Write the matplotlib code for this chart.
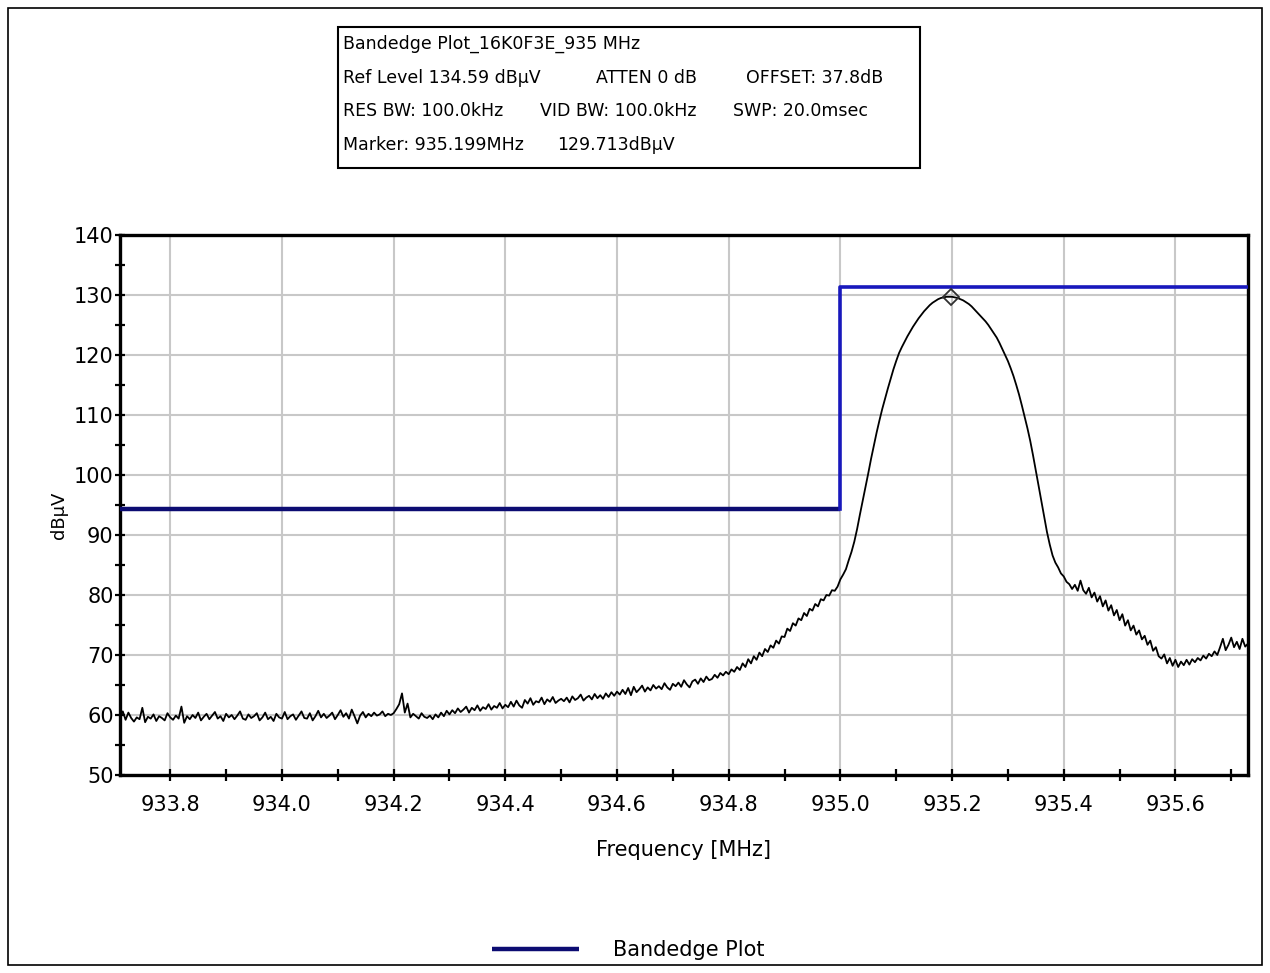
import numpy as np
import matplotlib
matplotlib.use("Agg")
import matplotlib.pyplot as plt
from matplotlib.patches import Rectangle
from matplotlib.ticker import MultipleLocator, FormatStrFormatter

plt.rcParams['font.family'] = ['DejaVu Sans']

# sweep settings (analyzer trace, 405 points)
f_start = 933.71
f_stop = 935.73
n_points = 405

# measured trace level, dBuV
trace_level = np.array([
    59.8, 60.6, 59.2, 60.4, 59.5, 58.9, 59.6, 59.3, 61.2, 58.8, 59.7, 59.4, 60.1, 59.0, 59.8, 59.5, 59.1, 60.3, 59.6, 59.2,
    59.9, 59.4, 61.4, 58.7, 59.8, 59.3, 60.0, 59.5, 60.4, 59.1, 59.7, 60.2, 59.3, 59.9, 60.5, 59.4, 59.8, 59.0, 60.2, 59.6,
    60.0, 59.3, 59.9, 60.6, 59.4, 59.2, 60.1, 59.5, 59.8, 60.3, 59.1, 59.6, 60.4, 59.3, 59.7, 59.0, 60.2, 59.6, 59.4, 60.5,
    59.3, 59.8, 60.1, 59.2, 59.9, 60.6, 59.5, 59.4, 60.3, 59.1, 59.8, 60.7, 59.6, 60.2, 59.5, 59.9, 60.4, 59.3, 60.0, 60.8,
    59.7, 60.3, 59.4, 60.9, 59.8, 58.6, 59.9, 60.5, 59.6, 60.2, 59.8, 60.4, 59.9, 60.1, 60.6, 59.8, 60.2, 60.0, 60.3, 61.0,
    61.8, 63.6, 60.4, 61.9, 59.6, 60.2, 59.8, 59.4, 60.3, 59.7, 59.5, 59.9, 59.3, 60.1, 59.6, 60.4, 59.8, 60.7, 60.1, 60.8,
    60.3, 61.1, 60.5, 60.9, 61.4, 60.4, 61.2, 60.8, 61.6, 60.7, 61.3, 61.0, 61.8, 60.9, 61.5, 61.2, 62.0, 61.1, 61.7, 61.3,
    62.2, 61.4, 62.4, 61.6, 61.2, 62.5, 61.9, 62.8, 61.7, 62.3, 62.1, 62.9, 61.8, 62.6, 62.2, 63.0, 62.0, 62.4, 62.7, 62.3,
    62.9, 62.1, 63.1, 62.5, 62.8, 63.4, 62.4, 62.9, 63.2, 62.6, 63.5, 62.8, 63.3, 62.7, 63.6, 63.0, 63.8, 63.2, 63.9, 63.4,
    64.2, 63.5, 64.5, 63.3, 64.7, 63.8, 64.3, 64.9, 63.9, 64.6, 64.1, 65.0, 64.4, 64.8, 64.3, 65.3, 64.6, 64.2, 65.2, 64.8,
    65.4, 64.7, 65.8, 65.1, 64.6, 65.6, 65.9, 65.2, 66.1, 65.5, 66.4, 65.8, 66.0, 66.7, 66.2, 67.0, 66.6, 67.2, 66.8, 67.6,
    67.2, 68.0, 67.5, 68.6, 68.0, 69.3, 68.6, 69.8, 69.2, 70.4, 69.8, 71.0, 70.5, 71.6, 71.2, 72.4, 71.9, 73.1, 73.0, 74.4,
    74.0, 75.3, 74.9, 76.1, 75.8, 77.0, 76.5, 77.7, 77.4, 78.5, 78.1, 79.3, 79.1, 80.0, 79.9, 80.8, 80.7, 81.4, 82.6, 83.4,
    84.3, 85.8, 87.2, 88.9, 91.0, 93.4, 95.7, 98.0, 100.3, 102.7, 104.9, 107.1, 109.1, 111.0, 112.7, 114.4, 116.0, 117.6, 119.0, 120.3,
    121.3, 122.2, 123.1, 123.9, 124.7, 125.4, 126.1, 126.7, 127.3, 127.8, 128.3, 128.7, 129.0, 129.3, 129.5, 129.6, 129.7, 129.7, 129.7, 129.6,
    129.5, 129.3, 129.1, 128.8, 128.5, 128.1, 127.6, 127.1, 126.6, 126.1, 125.6, 125.0, 124.3, 123.6, 122.9, 122.0, 121.0, 120.0, 119.0, 117.8,
    116.5, 115.0, 113.4, 111.6, 109.7, 107.8, 105.7, 103.3, 100.8, 98.2, 95.6, 93.0, 90.5, 88.4, 86.6, 85.4, 84.6, 83.6, 83.1, 82.2,
    81.8, 81.0, 81.7, 80.7, 82.4, 80.8, 80.2, 81.2, 79.6, 80.4, 78.9, 79.8, 78.1, 79.1, 77.4, 78.3, 76.6, 77.5, 75.8, 76.8,
    74.9, 75.8, 74.1, 74.9, 73.4, 74.1, 72.6, 73.2, 71.7, 72.4, 70.7, 71.3, 69.8, 69.4, 70.1, 68.6, 69.5, 68.2, 69.2, 68.0,
    68.9, 68.3, 69.2, 68.4, 69.3, 68.8, 69.5, 69.1, 69.9, 69.4, 70.2, 69.8, 70.6, 70.0, 71.3, 72.7, 70.8, 71.7, 72.9, 71.3,
    72.2, 71.0, 72.7, 71.4, 71.9,
])
trace_freq = np.linspace(f_start, f_stop, n_points)

# bandedge limit mask
limit_low_freq = [933.71, 935.0]
limit_low_level = [94.3, 94.3]
limit_high_freq = [935.0, 935.0, 935.73]
limit_high_level = [94.3, 131.3, 131.3]

marker_freq = 935.199
marker_level = 129.713

info_lines = [
    [(343, "Bandedge Plot_16K0F3E_935 MHz")],
    [(343, "Ref Level 134.59 dBµV"), (596, "ATTEN 0 dB"), (746, "OFFSET: 37.8dB")],
    [(343, "RES BW: 100.0kHz"), (540, "VID BW: 100.0kHz"), (733, "SWP: 20.0msec")],
    [(343, "Marker: 935.199MHz"), (557, "129.713dBµV")],
]

W, H = 1270, 973
fig = plt.figure(figsize=(W / 100, H / 100), dpi=100)
ax = fig.add_axes([120 / W, 1 - 775 / H, 1128 / W, 540 / H])

ax.grid(True, color='#c8c8c8', lw=1.5, zorder=0)
ax.plot(trace_freq, trace_level, color='black', lw=1.3, zorder=3)
ax.plot(limit_low_freq, limit_low_level, color='#0c0c72', lw=3.2, zorder=4,
        solid_capstyle='butt', label='Bandedge Plot')
ax.plot(limit_high_freq, limit_high_level, color='#1818bc', lw=2.6, zorder=4)
ax.plot([marker_freq], [marker_level], marker='D', ms=8, mfc='none',
        mec='#303030', mew=1.3, zorder=5)

ax.set_xlim(f_start, f_stop)
ax.set_ylim(50, 140)
ax.xaxis.set_major_locator(MultipleLocator(0.2))
ax.xaxis.set_minor_locator(MultipleLocator(0.1))
ax.xaxis.set_major_formatter(FormatStrFormatter('%.1f'))
ax.yaxis.set_major_locator(MultipleLocator(10))
ax.yaxis.set_minor_locator(MultipleLocator(5))

for s in ax.spines.values():
    s.set_linewidth(2.4)
ax.tick_params(axis='x', which='both', direction='inout', length=9, width=1.6,
               labelsize=15, pad=10)
ax.tick_params(axis='y', which='major', direction='inout', length=7, width=1.6,
               labelsize=15, pad=1)
ax.tick_params(axis='y', which='minor', direction='inout', length=7, width=1.6)

ax.set_xlabel('Frequency [MHz]', fontsize=15)
ax.xaxis.set_label_coords(0.5, -0.12)
ax.set_ylabel('dBµV', fontsize=13)
ax.yaxis.set_label_coords(-0.046, 0.48)

# settings box above the plot
fig.patches.append(Rectangle((338 / W, 1 - 168 / H), 582 / W, 141 / H,
                             transform=fig.transFigure, fill=False,
                             ec='black', lw=1.5))
for row, items in enumerate(info_lines):
    y = 1 - (44 + row * 33.7) / H
    for x, txt in items:
        fig.text(x / W, y, txt, fontsize=12.5, va='center', ha='left')

# outer frame
fig.patches.append(Rectangle((8 / W, 8 / H), 1254 / W, 957 / H,
                             transform=fig.transFigure, fill=False,
                             ec='black', lw=1.2))

ax.legend(loc='center', bbox_to_anchor=(628 / W, 1 - 950 / H),
          bbox_transform=fig.transFigure, frameon=False, fontsize=15,
          handlelength=4.2, handletextpad=1.6)

fig.savefig('out.png', dpi=100)
